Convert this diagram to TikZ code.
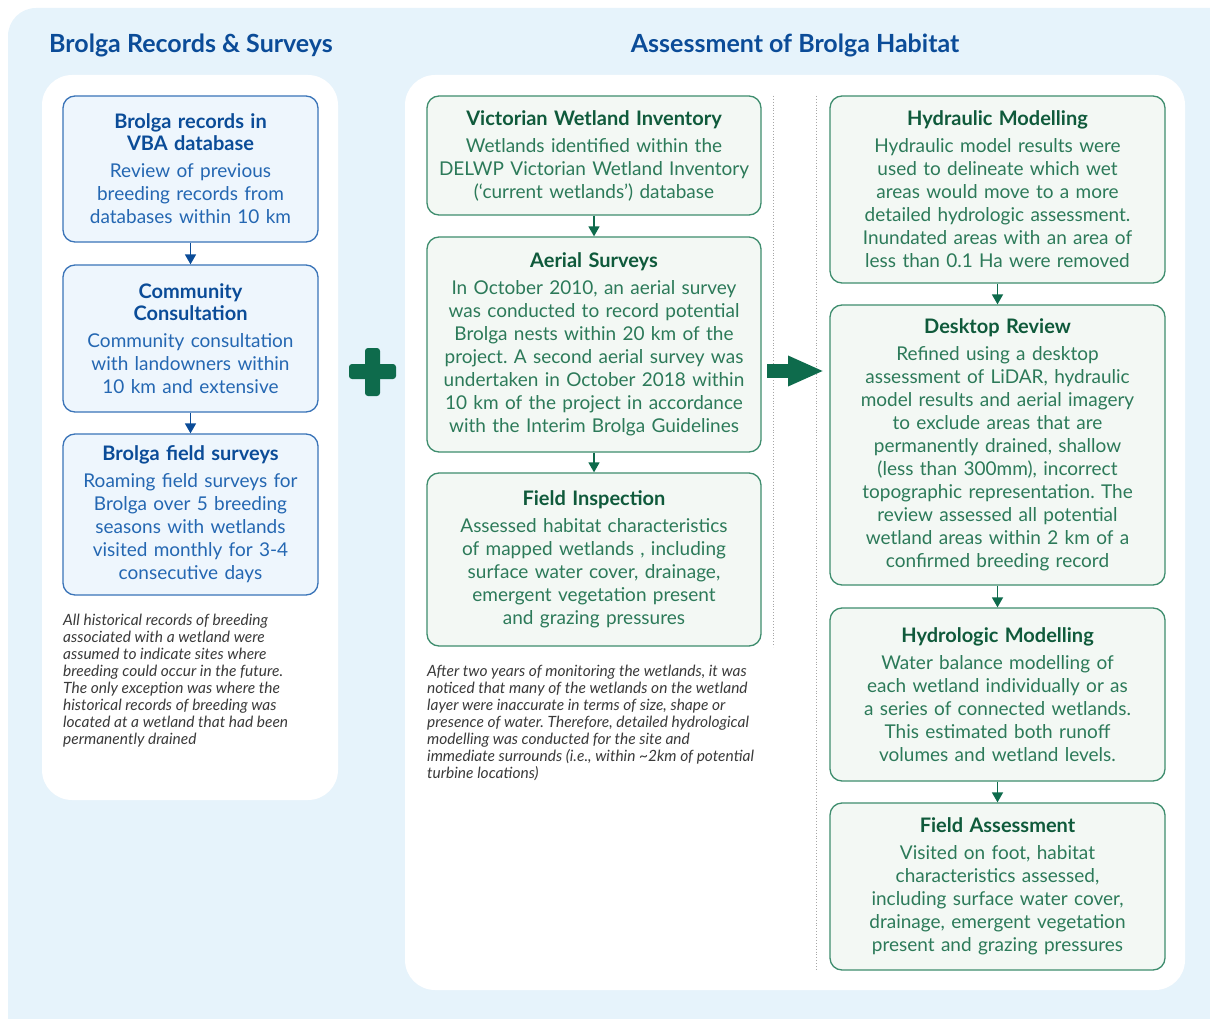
\documentclass[tikz,border=0pt]{standalone}
\usepackage{fontspec}
\setmainfont{Lato}
\usetikzlibrary{arrows.meta}
\definecolor{bgblue}{HTML}{E6F3FB}
\definecolor{bline}{HTML}{3A74B8}
\definecolor{bfill}{HTML}{EEF6FD}
\definecolor{bhead}{HTML}{0B4C98}
\definecolor{btext}{HTML}{2467B2}
\definecolor{gline}{HTML}{3E8D6E}
\definecolor{gfill}{HTML}{F3F8F4}
\definecolor{ghead}{HTML}{0F5A3B}
\definecolor{gtext}{HTML}{2C7A59}
\definecolor{gdark}{HTML}{0E6B4C}
\definecolor{notegray}{HTML}{3A3A3A}
\newcommand{\headb}[1]{{\fontsize{20}{22}\selectfont\bfseries\color{bhead}#1\par}\vspace{4pt}}
\newcommand{\headg}[1]{{\fontsize{20}{22}\selectfont\bfseries\color{ghead}#1\par}\vspace{4pt}}
\frenchspacing
\begin{document}
\begin{tikzpicture}[x=1pt,y=-1pt,
    bbox/.style={draw=bline, fill=bfill, text=btext, line width=1.3pt, rounded corners=12pt,
      align=center, inner sep=4pt, text width=247pt, font=\fontsize{19}{23}\selectfont},
    gbox/.style={bbox, draw=gline, fill=gfill, text=gtext},
    note/.style={anchor=north west, align=left, inner sep=0pt, text=notegray,
      font=\fontsize{15.5}{17}\selectfont\itshape},
    heading/.style={font=\fontsize{25}{28}\selectfont\bfseries, text=bhead},
    arr/.style={-{Triangle[width=11pt,length=10pt]}, line width=1.6pt}]
    \useasboundingbox (0,0) rectangle (1210,1019);
    % backgrounds
    \fill[bgblue, rounded corners=28pt] (8,8) rectangle (1240,1050);
    \fill[white, rounded corners=30pt] (42,75) rectangle (338,800);
    \fill[white, rounded corners=30pt] (405,75) rectangle (1185,990);
    \node[heading] (ttlrec) at (191,45) {Brolga Records \& Surveys};
    \node[heading] (ttlhab) at (795,45) {Assessment of Brolga Habitat};
    % records and surveys
    \node[bbox, minimum height=146pt] (vba) at (190.5,169) {\headb{Brolga records in\\VBA database}
        Review of previous\\breeding records from\\databases within 10 km};
    \node[bbox, minimum height=147pt] (comm) at (190.5,338.5) {\headb{Community\\Consultation}
        Community consultation\\with landowners within\\10 km and extensive};
    \node[bbox, minimum height=161pt] (field) at (190.5,514.5) {\headb{Brolga field surveys}
        Roaming field surveys for\\Brolga over 5 breeding\\seasons with wetlands\\visited monthly for 3-4\\consecutive days};
    \draw[arr, bhead] (vba) -- (comm);
    \draw[arr, bhead] (comm) -- (field);
    \node[note] (notrec) at (63,614) {All historical records of breeding\\associated with a wetland were\\assumed to indicate sites where\\breeding could occur in the future.\\The only exception was where the\\historical records of breeding was\\located at a wetland that had been\\permanently drained};
    % plus
    \fill[gdark, rounded corners=3pt] (349,364) rectangle (396,379);
    \fill[gdark, rounded corners=3pt] (365,348) rectangle (380,396);
    % habitat, first stage
    \node[gbox, text width=326pt, minimum height=119pt] (vwi) at (594,155.5) {\headg{Victorian Wetland Inventory}
        Wetlands identified within the\\DELWP Victorian Wetland Inventory\\(‘current wetlands’) database};
    \node[gbox, text width=326pt, minimum height=215pt] (aerial) at (594,344.5) {\headg{Aerial Surveys}
        In October 2010, an aerial survey\\was conducted to record potential\\Brolga nests within 20 km of the\\project. A second aerial survey was\\undertaken in October 2018 within\\10 km of the project in accordance\\with the Interim Brolga Guidelines};
    \node[gbox, text width=326pt, minimum height=173pt] (insp) at (594,559.5) {\headg{Field Inspection}
        Assessed habitat characteristics\\of mapped wetlands , including\\surface water cover, drainage,\\emergent vegetation present\\and grazing pressures};
    \draw[arr, gdark] (vwi) -- (aerial);
    \draw[arr, gdark] (aerial) -- (insp);
    \node[note] (nothab) at (427,665) {After two years of monitoring the wetlands, it was\\noticed that many of the wetlands on the wetland\\layer were inaccurate in terms of size, shape or\\presence of water. Therefore, detailed hydrological\\modelling was conducted for the site and\\immediate surrounds (i.e., within \textasciitilde2km of potential\\turbine locations)};
    \draw[gray!70, dotted, line width=0.9pt] (773,96) -- (773,647);
    \draw[gray!70, dotted, line width=0.9pt] (816,96) -- (816,970);
    \coordinate (gofrom) at (767,371);
    \coordinate (goto) at (824,371);
    \draw[gdark, line width=14pt, -{Triangle[width=28pt,length=36pt]}] (gofrom) -- (goto);
    % habitat, second stage
    \node[gbox, text width=327pt, minimum height=187pt] (hydra) at (997.5,189.5) {\headg{Hydraulic Modelling}
        Hydraulic model results were\\used to delineate which wet\\areas would move to a more\\detailed hydrologic assessment.\\Inundated areas with an area of\\less than 0.1 Ha were removed};
    \node[gbox, text width=327pt, minimum height=280pt] (desk) at (997.5,445) {\headg{Desktop Review}
        Refined using a desktop\\assessment of LiDAR, hydraulic\\model results and aerial imagery\\to exclude areas that are\\permanently drained, shallow\\(less than 300mm), incorrect\\topographic representation. The\\review assessed all potential\\wetland areas within 2 km of a\\confirmed breeding record};
    \node[gbox, text width=327pt, minimum height=173pt] (hydro) at (997.5,694.5) {\headg{Hydrologic Modelling}
        Water balance modelling of\\each wetland individually or as\\a series of connected wetlands.\\This estimated both runoff\\volumes and wetland levels.};
    \node[gbox, text width=327pt, minimum height=167pt] (fass) at (997.5,886.5) {\headg{Field Assessment}
        Visited on foot, habitat\\characteristics assessed,\\including surface water cover,\\drainage, emergent vegetation\\present and grazing pressures};
    \draw[arr, gdark] (hydra) -- (desk);
    \draw[arr, gdark] (desk) -- (hydro);
    \draw[arr, gdark] (hydro) -- (fass);
\end{tikzpicture}
\end{document}
